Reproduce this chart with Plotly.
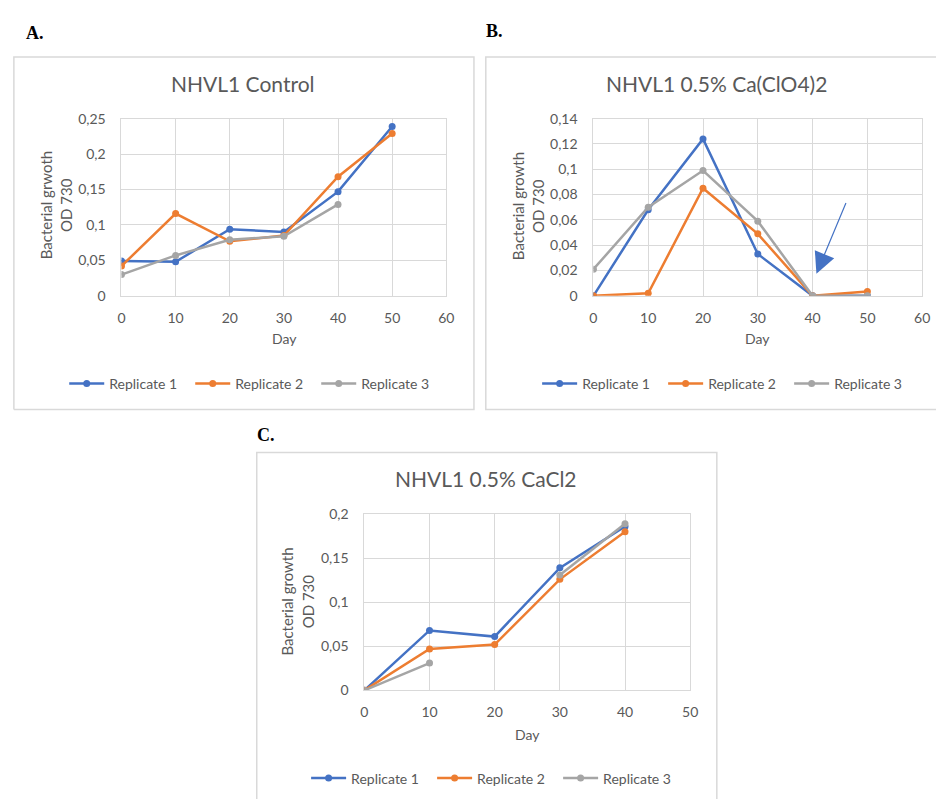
import plotly.graph_objects as go

W, H = 944, 807

def px(x):
    return x / W

def py(y):
    return 1 - y / H

# ---------------- data ----------------
days_A = [0, 10, 20, 30, 40, 50]
ctrl_rep1 = [0.049, 0.048, 0.094, 0.090, 0.147, 0.239]
ctrl_rep2 = [0.042, 0.116, 0.077, 0.085, 0.168, 0.229]
ctrl_rep3 = [0.030, 0.057, 0.079, 0.084, 0.129, None]

days_B = [0, 10, 20, 30, 40, 50]
perc_rep1 = [0.0, 0.068, 0.124, 0.033, 0.0, 0.0]
perc_rep2 = [0.0, 0.002, 0.085, 0.049, 0.0, 0.0035]
perc_rep3 = [0.021, 0.070, 0.099, 0.059, 0.0, 0.0]

days_C = [0, 10, 20, 30, 40]
cacl_rep1 = [0.0, 0.068, 0.061, 0.139, 0.186]
cacl_rep2 = [0.0, 0.047, 0.052, 0.126, 0.180]
cacl_rep3 = [0.0, 0.031, None, 0.131, 0.189]

series_names = ["Replicate 1", "Replicate 2", "Replicate 3"]
colors = ["#4472C4", "#ED7D31", "#A5A5A5"]

x_ticks_AB = [0, 10, 20, 30, 40, 50, 60]
x_ticks_C = [0, 10, 20, 30, 40, 50]
y_ticks_A = [0, 0.05, 0.10, 0.15, 0.20, 0.25]
y_labels_A = ["0", "0,05", "0,1", "0,15", "0,2", "0,25"]
y_ticks_B = [0, 0.02, 0.04, 0.06, 0.08, 0.10, 0.12, 0.14]
y_labels_B = ["0", "0,02", "0,04", "0,06", "0,08", "0,1", "0,12", "0,14"]
y_ticks_C = [0, 0.05, 0.10, 0.15, 0.20]
y_labels_C = ["0", "0,05", "0,1", "0,15", "0,2"]

titles = ["NHVL1 Control", "NHVL1 0.5% Ca(ClO4)2", "NHVL1 0.5% CaCl2"]
y_titles_1 = ["Bacterial grwoth", "Bacterial growth", "Bacterial growth"]
y_titles_2 = ["OD 730", "OD 730", "OD 730"]
letters = ["A.", "B.", "C."]

FONT = "Lato"
TXT = "#595959"
GRID = "#D9D9D9"

fig = go.Figure()

panels = [
    dict(days=days_A, reps=[ctrl_rep1, ctrl_rep2, ctrl_rep3], ax="", legend="legend"),
    dict(days=days_B, reps=[perc_rep1, perc_rep2, perc_rep3], ax="2", legend="legend2"),
    dict(days=days_C, reps=[cacl_rep1, cacl_rep2, cacl_rep3], ax="3", legend="legend3"),
]

for p in panels:
    for name, col, vals in zip(series_names, colors, p["reps"]):
        fig.add_trace(go.Scatter(
            x=p["days"], y=vals, name=name, mode="lines+markers",
            line=dict(color=col, width=2.5),
            marker=dict(color=col, size=7),
            connectgaps=False,
            xaxis="x" + p["ax"], yaxis="y" + p["ax"],
            legend=p["legend"],
        ))

# layout geometry (pixels)
geo = {
    "A": dict(plot=(119, 448, 112, 293), title=(242, 76),
              letter=(31, 25), day=(284, 337), ytitle=(42, 63, 200), legend=(61, 383)),
    "B": dict(plot=(597, 930, 112, 293), title=(722, 76),
              letter=(497, 22), day=(763, 337), ytitle=(520, 541, 201), legend=(540, 383)),
    "C": dict(plot=(365, 695, 516, 696), title=(488, 480),
              letter=(265, 435), day=(530, 741), ytitle=(287, 308, 605), legend=(306, 786)),
}

# panel frames (open where the frame runs off the picture)
frame_paths = [
    [(10, 409), (10, 49), (476, 49), (476, 409), (10, 409)],
    [(944, 409), (488, 409), (488, 49), (944, 49)],
    [(256, 807), (256, 453), (722, 453), (722, 807)],
]

def axis_common(domain, tickvals, ticktext=None, rng=None, ticklen=8):
    d = dict(
        domain=domain, range=rng, tickmode="array", tickvals=tickvals,
        showgrid=True, gridcolor=GRID, gridwidth=1,
        showline=True, linecolor=GRID, linewidth=1, mirror=True,
        zeroline=False, ticks="outside", ticklen=ticklen, tickcolor="rgba(0,0,0,0)",
        tickfont=dict(family=FONT, size=14, color=TXT), fixedrange=True,
    )
    if ticktext is not None:
        d["ticktext"] = ticktext
    return d

axes_cfg = [
    ("A", "", x_ticks_AB, [0, 60], y_ticks_A, y_labels_A, [0, 0.25]),
    ("B", "2", x_ticks_AB, [0, 60], y_ticks_B, y_labels_B, [0, 0.14]),
    ("C", "3", x_ticks_C, [0, 50], y_ticks_C, y_labels_C, [0, 0.2]),
]

layout_axes = {}
shapes = []
annotations = []
for key, suf, xt, xr, yt, yl, yr in axes_cfg:
    g = geo[key]
    x0, x1, y0, y1 = g["plot"]
    xa = axis_common([px(x0), px(x1)], xt, [str(v) for v in xt], xr, ticklen=9)
    xa["anchor"] = "y" + suf
    ya = axis_common([py(y1), py(y0)], yt, yl, yr, ticklen=12)
    ya["anchor"] = "x" + suf
    layout_axes["xaxis" + suf] = xa
    layout_axes["yaxis" + suf] = ya

for pts in frame_paths:
    path = " ".join(("M" if k == 0 else "L") + f"{px(a):.5f},{py(b):.5f}" for k, (a, b) in enumerate(pts))
    shapes.append(dict(type="path", xref="paper", yref="paper", path=path,
                       line=dict(color=GRID, width=1.5), layer="below"))

for i, key in enumerate(["A", "B", "C"]):
    g = geo[key]
    annotations.append(dict(text=titles[i], x=px(g["title"][0]), y=py(g["title"][1]),
                            xref="paper", yref="paper", showarrow=False,
                            xanchor="center", yanchor="middle",
                            font=dict(family=FONT, size=21, color=TXT)))
    annotations.append(dict(text="<b>" + letters[i] + "</b>", x=px(g["letter"][0]), y=py(g["letter"][1]),
                            xref="paper", yref="paper", showarrow=False,
                            xanchor="center", yanchor="middle",
                            font=dict(family="Liberation Serif", size=18, color="#000000")))
    annotations.append(dict(text="Day", x=px(g["day"][0]), y=py(g["day"][1]),
                            xref="paper", yref="paper", showarrow=False,
                            xanchor="center", yanchor="middle",
                            font=dict(family=FONT, size=14, color=TXT)))
    yx1, yx2, yy = g["ytitle"]
    for txt, xx in ((y_titles_1[i], yx1), (y_titles_2[i], yx2)):
        annotations.append(dict(text=txt, x=px(xx), y=py(yy),
                                xref="paper", yref="paper", showarrow=False, textangle=-90,
                                xanchor="center", yanchor="middle",
                                font=dict(family=FONT, size=15, color=TXT)))

# arrow in panel B
annotations.append(dict(text="", x=40.7, y=0.0175, ax=46.2, ay=0.0745,
                        xref="x2", yref="y2", axref="x2", ayref="y2",
                        showarrow=True, arrowhead=2, arrowsize=3.5, arrowwidth=1.2,
                        arrowcolor="#4472C4"))

def legend_cfg(key):
    g = geo[key]
    return dict(orientation="h", x=px(g["legend"][0]), y=py(g["legend"][1]),
                xanchor="left", yanchor="middle", bgcolor="rgba(0,0,0,0)",
                font=dict(family=FONT, size=14, color=TXT), itemwidth=35,
                entrywidth=76, entrywidthmode="pixels", itemclick=False, itemdoubleclick=False)

fig.update_layout(
    width=W, height=H, margin=dict(l=0, r=0, t=0, b=0),
    paper_bgcolor="white", plot_bgcolor="white",
    showlegend=True,
    legend=legend_cfg("A"), legend2=legend_cfg("B"), legend3=legend_cfg("C"),
    shapes=shapes, annotations=annotations,
    **layout_axes,
)

fig.write_html("out.html", config={"displayModeBar": False},
               post_script="document.body.style.margin='0';document.body.style.padding='0';"
                           "document.body.style.overflow='hidden';"
                           "document.documentElement.style.overflow='hidden';")
